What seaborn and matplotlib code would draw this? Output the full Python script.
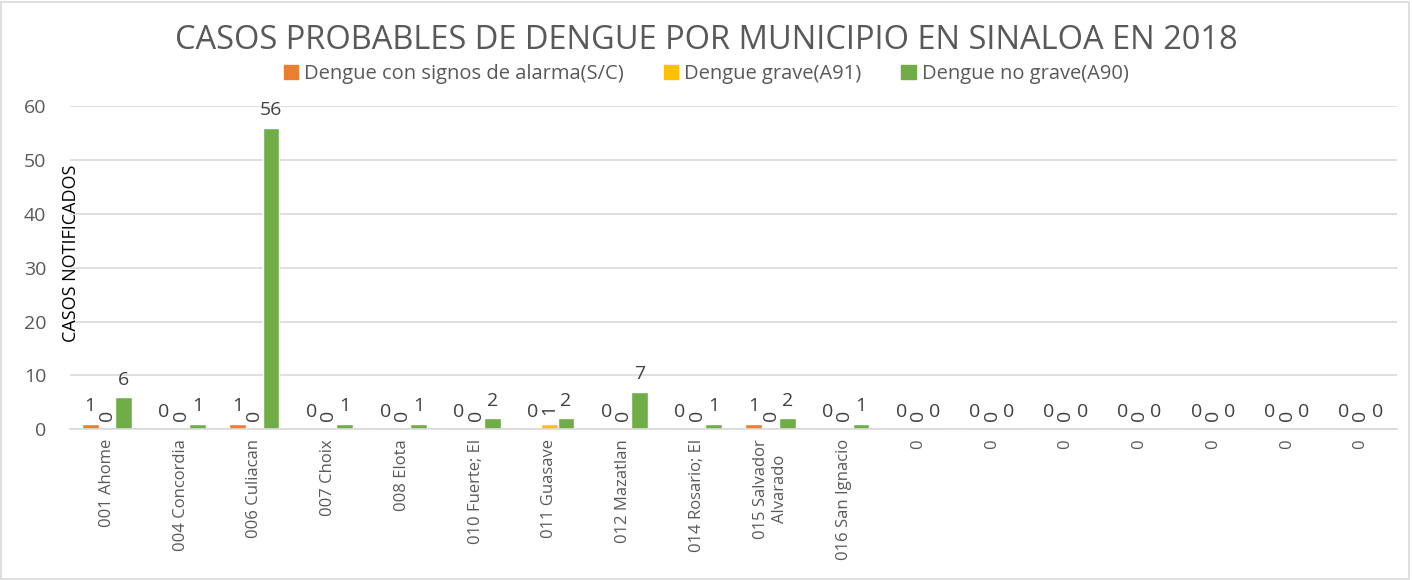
import pandas as pd
import matplotlib.pyplot as plt
import matplotlib.patches as mpatches
import seaborn as sns

sns.set_theme(style="white")
plt.rcParams['font.family'] = ['Open Sans', 'DejaVu Sans']

municipios = ['001 Ahome', '004 Concordia', '006 Culiacan', '007 Choix', '008 Elota',
              '010 Fuerte; El', '011 Guasave', '012 Mazatlan', '014 Rosario; El',
              '015 Salvador\nAlvarado', '016 San Ignacio',
              '0', '0', '0', '0', '0', '0', '0']
alarma = [1, 0, 1, 0, 0, 0, 0, 0, 0, 1, 0, 0, 0, 0, 0, 0, 0, 0]
grave = [0, 0, 0, 0, 0, 0, 1, 0, 0, 0, 0, 0, 0, 0, 0, 0, 0, 0]
no_grave = [6, 1, 56, 1, 1, 2, 2, 7, 1, 2, 1, 0, 0, 0, 0, 0, 0, 0]
series = ['Dengue con signos de alarma(S/C)', 'Dengue grave(A91)', 'Dengue no grave(A90)']
colores = ['#ED7D31', '#FFC000', '#70AD47']

keys = [f'm{i}' for i in range(len(municipios))]
rows = []
for name, vals in zip(series, [alarma, grave, no_grave]):
    for k, v in zip(keys, vals):
        rows.append({'municipio': k, 'serie': name, 'casos': v})
df = pd.DataFrame(rows)

fig = plt.figure(figsize=(14.12, 5.80), dpi=100)
ax = fig.add_axes([0.0496, 0.26, 0.94, 0.557])
sns.barplot(data=df, x='municipio', y='casos', hue='serie', order=keys,
            hue_order=series, palette=colores, width=0.68, saturation=1,
            ax=ax, legend=False)

# etiquetas de datos; la serie amarilla va girada como en el original
for i, cont in enumerate(ax.containers):
    ax.bar_label(cont, fmt='%d', fontsize=14, color='#404040', padding=6,
                 rotation=90 if i == 1 else 0)

ax.set_ylim(0, 60)
ax.set_yticks(range(0, 61, 10))
ax.yaxis.grid(True, color='#D9D9D9', linewidth=1.2)
ax.set_axisbelow(True)
for s in ['top', 'right', 'left']:
    ax.spines[s].set_visible(False)
ax.spines['bottom'].set_color('#D9D9D9')
ax.spines['bottom'].set_linewidth(1.2)
ax.set_xticks(range(len(keys)))
ax.set_xticklabels(municipios, rotation=90, fontsize=12, color='#595959',
                   va='top', ha='center', multialignment='center')
ax.tick_params(axis='y', labelsize=14, labelcolor='#595959', length=0, pad=17)
ax.tick_params(axis='x', length=0, pad=7)
ax.set_xlabel('')
ax.set_ylabel('')
ax.set_xlim(-0.5, len(keys) - 0.5)

fig.text(0.05, 0.564, 'CASOS NOTIFICADOS', rotation=90, fontsize=13,
         color='black', ha='center', va='center')
fig.suptitle('CASOS PROBABLES DE DENGUE POR MUNICIPIO EN SINALOA EN 2018',
             fontsize=23.5, color='#595959', y=0.958)

handles = [mpatches.Patch(color=c, label=s) for c, s in zip(colores, series)]
leg = fig.legend(handles=handles, loc='center', bbox_to_anchor=(0.5, 0.873),
                 ncol=3, frameon=False, fontsize=14.5, handlelength=0.7,
                 handleheight=0.7, handletextpad=0.3, columnspacing=2.0)
for t in leg.get_texts():
    t.set_color('#595959')

fig.patches.append(mpatches.Rectangle((0.001, 0.002), 0.997, 0.995,
                                      transform=fig.transFigure, fill=False,
                                      edgecolor='#D9D9D9', linewidth=1.2))

fig.savefig('out.png', dpi=100)
